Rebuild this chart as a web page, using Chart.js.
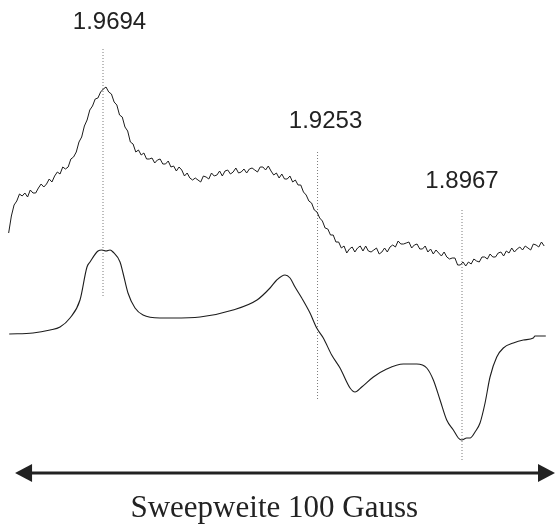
<!DOCTYPE html>
<html>
<head>
<meta charset="utf-8">
<script src="https://cdn.jsdelivr.net/npm/chart.js@4/dist/chart.umd.min.js"></script>
<style>
  html, body { margin: 0; padding: 0; background: #ffffff; }
  #wrap { width: 555px; height: 524px; }
</style>
</head>
<body>
<div id="wrap"><canvas id="epr" width="555" height="524"></canvas></div>
<script>
// Recorded spectrum (upper trace): field sweep in Gauss, regular steps
const FIELD_START = -1;
const FIELD_STEP = 0.5;
const recordedSignal = [
  67,84,95,99,106,104,107,103,110,107,
  107,112,116,113,116,121,118,124,128,126,
  133,131,133,141,143,148,158,163,174,180,
  190,194,201,202,208,211,213,208,206,198,
  195,185,183,173,169,158,156,148,150,145,
  147,141,141,142,137,140,141,136,136,139,
  133,134,129,133,130,124,127,122,120,122,
  120,118,124,123,121,127,124,125,129,124,
  129,130,126,128,132,127,128,131,127,131,
  132,130,128,133,133,130,134,129,125,127,
  122,126,121,121,124,118,120,115,115,108,
  105,99,97,90,88,82,79,72,71,65,
  65,58,58,52,54,47,51,53,48,52,
  54,49,54,49,48,50,52,46,48,52,
  48,53,55,53,59,56,56,57,58,52,
  55,56,51,51,54,48,51,46,50,47,
  44,48,43,41,42,42,35,35,38,34,
  38,36,41,39,38,43,43,41,46,43,
  43,47,48,44,49,47,52,48,51,53,
  50,54,52,50,56,55,53,58,54
];

// Simulated spectrum (lower trace)
const simulatedField = [
  -0.9,3.5,6.65,8.5,10.34,12.19,13.48,14.04,15.52,16.26,17.0,17.74,18.29,
  19.59,20.14,21.06,22.36,23.84,26.98,29.38,34.38,40.48,44.91,47.32,48.56,
  50.09,51.02,51.94,53.18,54.71,55.95,57.17,58.72,60.26,62.11,63.03,64.27,
  66.42,68.89,71.96,74.44,76.29,77.51,78.75,79.98,81.21,82.13,82.76,83.68,
  84.30,85.22,86.14,87.07,87.99,89.23,90.45,92.30,94.15,95.99,96.3,98.3
];
const simulatedSignal = [
  -34,-33,-30,-27,-18,0,33,38,49,50,49,50,48,
  38,27,7,-8,-15,-18,-18,-17,-10,0,12,20,
  25,22,13,2,-13,-28,-38,-55,-68,-88,-92,-87,
  -77,-69,-64,-64,-68,-80,-100,-120,-130,-138,-140,-138,
  -138,-132,-123,-103,-77,-57,-48,-43,-40,-38,-36,-36
];

// g-values marked above the spectrum
const gLabels = ['1.9694', '1.9253', '1.8967'];
const gValues = [1.9694, 1.9253, 1.8967];
// field = FIELD_CONST / g - FIELD_OFFSET  (Gauss)
const FIELD_CONST = 3410;
const FIELD_OFFSET = 1715.05;
// vertical extent of each dotted marker (signal units): top, bottom
const markerTop = [251, 148, 90];
const markerBottom = [2, -100, -160];

const SWEEP_START = 0;
const SWEEP_END = 100;
const sweepText = 'Sweepweite 100 Gauss';

const recordedPoints = recordedSignal.map((v, i) => ({ x: FIELD_START + i * FIELD_STEP, y: v }));
const simulatedPoints = simulatedField.map((x, i) => ({ x: x, y: simulatedSignal[i] }));
const markerField = gValues.map(g => FIELD_CONST / g - FIELD_OFFSET);

const markerSets = markerField.map((x, i) => ({
  data: [{ x: x, y: markerTop[i] }, { x: x, y: markerBottom[i] }],
  borderColor: '#7a7a7a',
  borderWidth: 1,
  borderDash: [1, 2],
  pointRadius: 0,
  tension: 0,
  clip: false
}));

// Text labels, sweep arrow and caption
const annotations = {
  id: 'annotations',
  afterDatasetsDraw(chart) {
    const { ctx, scales: { x, y } } = chart;
    ctx.save();
    // g-value labels
    ctx.fillStyle = '#222';
    ctx.font = '24px "Liberation Sans", Arial, sans-serif';
    ctx.textAlign = 'center';
    ctx.textBaseline = 'middle';
    const labelShift = [6.5, 8, 0];
    const labelY = [278, 178.5, 119];
    gLabels.forEach((t, i) => {
      ctx.fillText(t, x.getPixelForValue(markerField[i]) + labelShift[i], y.getPixelForValue(labelY[i]));
    });
    // double-headed sweep arrow
    const ay = y.getPixelForValue(-173);
    const x0 = x.getPixelForValue(SWEEP_START) + 1;
    const x1 = x.getPixelForValue(SWEEP_END);
    const head = 17, half = 9;
    ctx.strokeStyle = '#222';
    ctx.lineWidth = 3;
    ctx.beginPath();
    ctx.moveTo(x0 + head - 2, ay);
    ctx.lineTo(x1 - head + 2, ay);
    ctx.stroke();
    ctx.beginPath();
    ctx.moveTo(x0, ay);
    ctx.lineTo(x0 + head, ay - half);
    ctx.lineTo(x0 + head, ay + half);
    ctx.closePath();
    ctx.fill();
    ctx.beginPath();
    ctx.moveTo(x1, ay);
    ctx.lineTo(x1 - head, ay - half);
    ctx.lineTo(x1 - head, ay + half);
    ctx.closePath();
    ctx.fill();
    // caption
    ctx.font = '31px "Liberation Serif", "Times New Roman", serif';
    ctx.textBaseline = 'alphabetic';
    ctx.fillText(sweepText, x.getPixelForValue(48.1), y.getPixelForValue(-217));
    ctx.restore();
  }
};

new Chart(document.getElementById('epr'), {
  type: 'line',
  data: {
    datasets: [
      {
        data: recordedPoints,
        borderColor: '#1c1c1c',
        borderWidth: 1,
        pointRadius: 0,
        tension: 0,
        clip: false
      },
      {
        data: simulatedPoints,
        borderColor: '#1c1c1c',
        borderWidth: 1.1,
        pointRadius: 0,
        cubicInterpolationMode: 'monotone',
        clip: false
      },
      ...markerSets
    ]
  },
  options: {
    responsive: false,
    animation: false,
    events: [],
    layout: { padding: 0 },
    plugins: { legend: { display: false }, tooltip: { enabled: false } },
    scales: {
      x: { type: 'linear', min: -2.6, max: 100, display: false },
      y: { type: 'linear', min: -224, max: 300, display: false }
    }
  },
  plugins: [annotations]
});
</script>
</body>
</html>
